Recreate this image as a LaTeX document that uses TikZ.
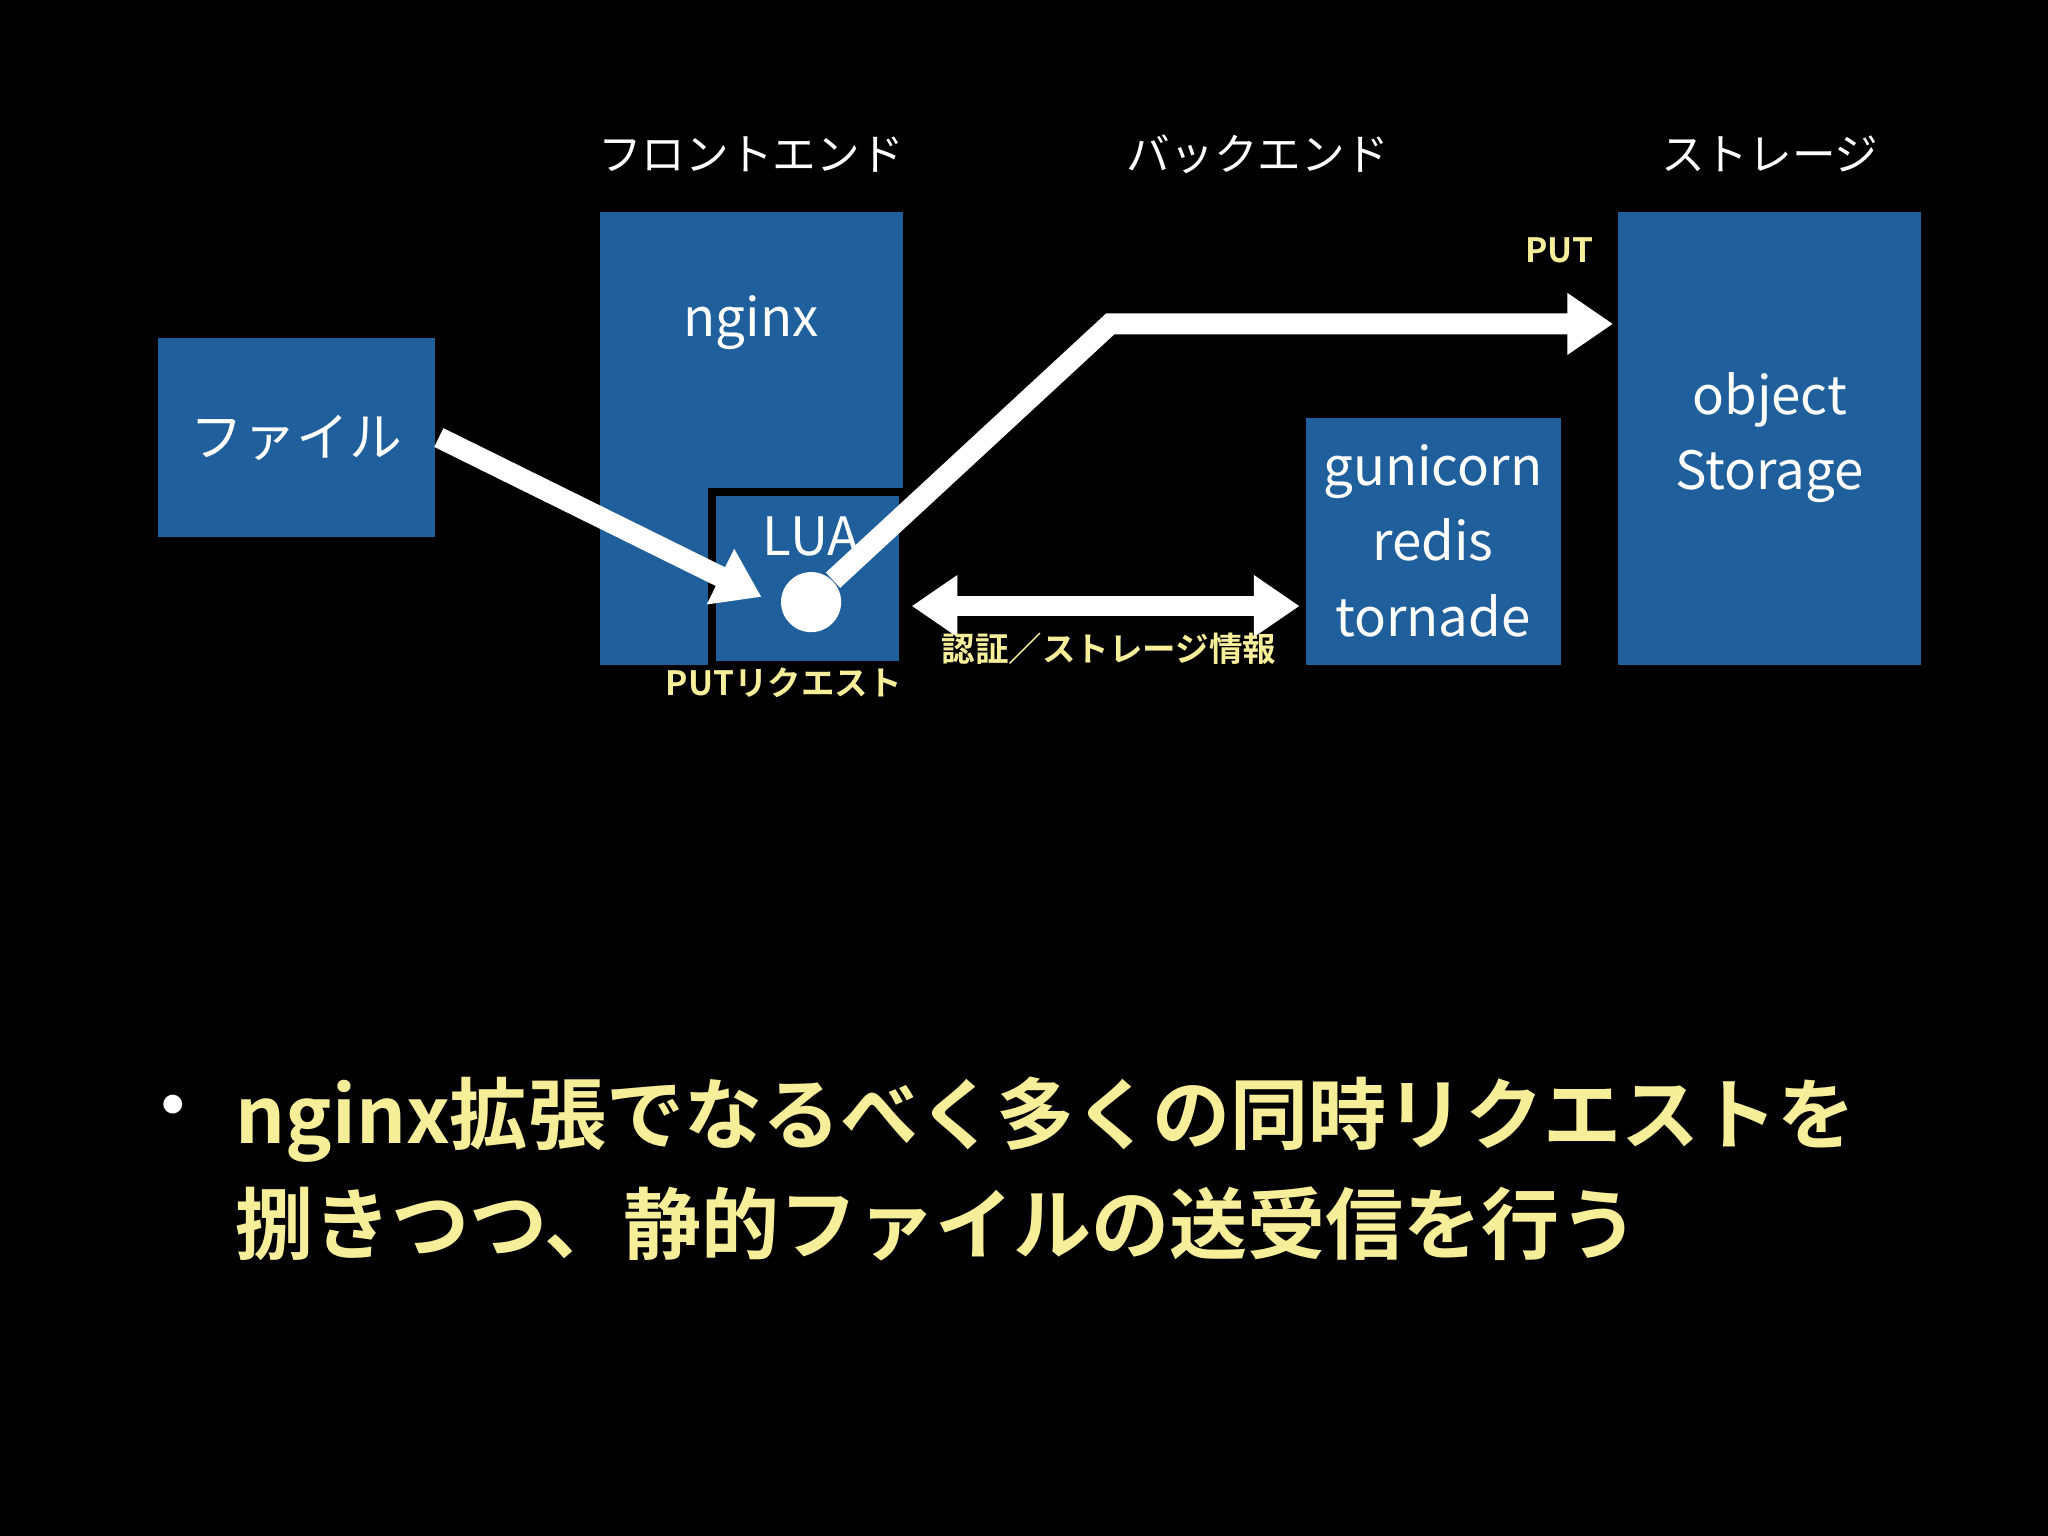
\documentclass[tikz,border=0pt]{standalone}
\usepackage{fontspec}
\setmainfont{Noto Sans CJK JP}[BoldFont={Noto Sans CJK JP Bold}]
\usetikzlibrary{arrows.meta}
\definecolor{boxblue}{HTML}{1F5F9C}
\definecolor{noteyellow}{HTML}{F7EE9A}
\tikzset{
    block/.style = {fill=boxblue, draw=none},
    label/.style = {
        text=white, font=\fontsize{11.5}{16.5}\selectfont, align=center
    },
    heading/.style = {text=white, font=\fontsize{9.5}{12}\selectfont},
    note/.style = {text=noteyellow, font=\bfseries\fontsize{7.3}{9}\selectfont},
    flow/.style = {draw=white, line width=1.6mm, -{Triangle[length=3.5mm,width=4.5mm]}}
}
\begin{document}
\begin{tikzpicture}[x=0.01cm, y=-0.01cm]
    \useasboundingbox (0,0) rectangle (1568,1176);
    \fill[black] (0,0) rectangle (1568,1176);
    % headings
    \node[heading] (hfront) at (575,118) {フロントエンド};
    \node[heading] (hback) at (963,118) {バックエンド};
    \node[heading] (hstore) at (1355,118) {ストレージ};
    % boxes
    \path[block] (121,259) rectangle (333,411);
    \node[label] (file) at (227,335) {ファイル};
    \path[block] (459,162) rectangle (691,509);
    \node[label] (nginx) at (575,247) {nginx};
    \path[block, draw=black, line width=0.6mm] (545,377) rectangle (691,509);
    \node[label] (lua) at (621,411) {LUA};
    \path[block] (1000,320) rectangle (1195,509);
    \node[label] (backend) at (1097,414) {gunicorn\\redis\\tornade};
    \path[block] (1239,162) rectangle (1471,509);
    \node[label] (storage) at (1355,335) {object\\Storage};
    \node[circle, fill=white, minimum size=0.46cm, inner sep=0] (req) at (621,461) {};
    % connectors
    \coordinate (fileout) at (336,335);
    \coordinate (luain) at (583,457);
    \coordinate (bend) at (850,248);
    \coordinate (storein) at (1235,248);
    \coordinate (authl) at (698,464);
    \coordinate (authr) at (995,464);
    \draw[flow] (fileout) -- (luain);
    \draw[flow] (req.north east) -- (bend) -- (storein);
    \draw[flow, {Triangle[length=3.5mm,width=4.5mm]}-{Triangle[length=3.5mm,width=4.5mm]}] (authl) -- (authr);
    % notes
    \node[note] (put) at (1194,192) {PUT};
    \node[note] (putreq) at (600,523) {PUTリクエスト};
    \node[note] (auth) at (849,497) {認証／ストレージ情報};
    % summary
    \node[text=white, font=\bfseries\fontsize{16}{20}\selectfont] (dot) at (133,853) {・};
    \node[anchor=west, text=noteyellow, font=\bfseries\fontsize{17}{24}\selectfont, align=left] (summary) at (168,895)
        {nginx拡張でなるべく多くの同時リクエストを\\捌きつつ、静的ファイルの送受信を行う};
\end{tikzpicture}
\end{document}
